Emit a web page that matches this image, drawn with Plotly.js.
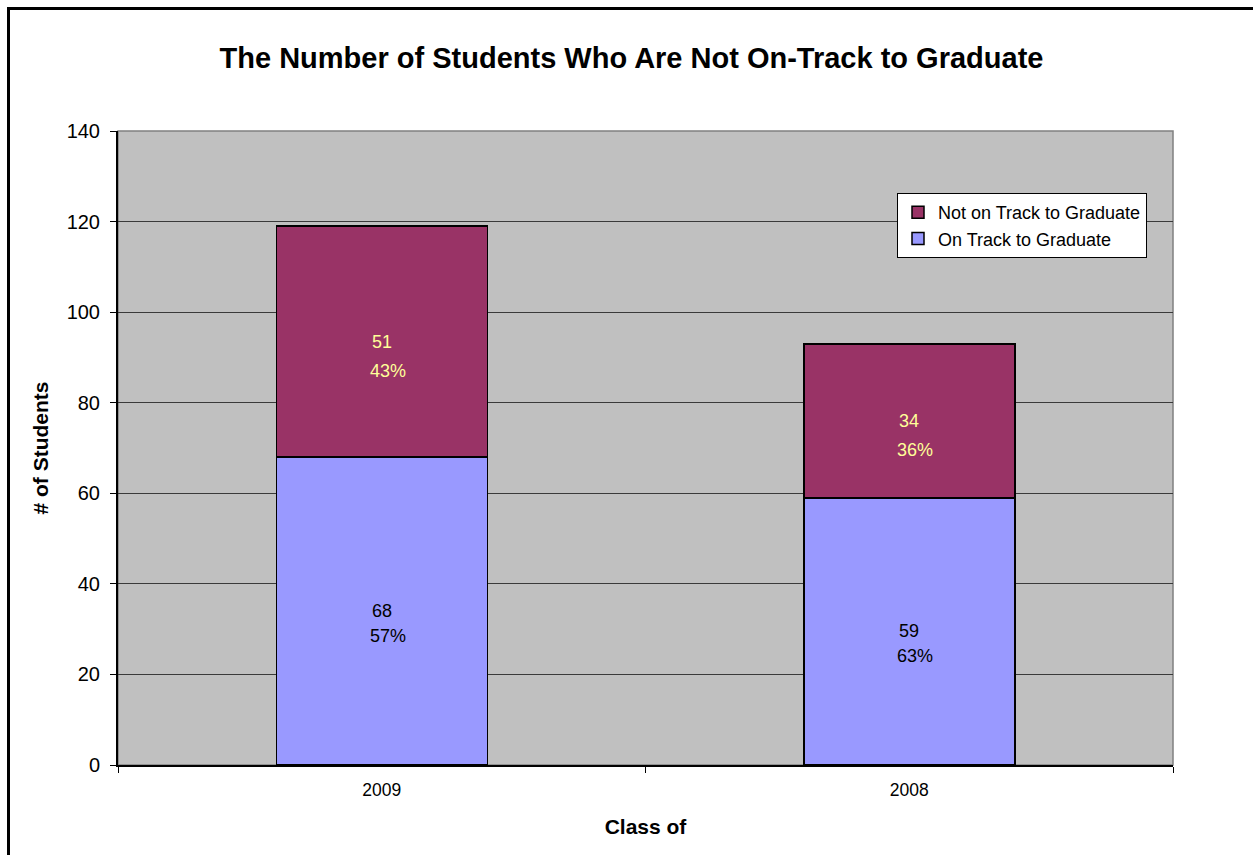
<!DOCTYPE html>
<html>
<head>
<meta charset="utf-8">
<script src="https://cdn.plot.ly/plotly-3.0.1.min.js"></script>
<style>
  html, body { margin: 0; padding: 0; background: #ffffff; overflow: hidden; }
  #chart { width: 1253px; height: 855px; position: absolute; left: 0; top: 0; }
  #frame { position: absolute; left: 7px; top: 7px; width: 1400px; height: 1000px;
           border-left: 3px solid #000; border-top: 3px solid #000; pointer-events: none; }
</style>
</head>
<body>
<div id="chart"></div>
<div id="frame"></div>
<script>
// ---- data ----
const categories = ["2009", "2008"];
const onTrack = [68, 59];
const notOnTrack = [51, 34];
const onTrackPct = ["57%", "63%"];
const notOnTrackPct = ["43%", "36%"];
const seriesNames = ["On Track to Graduate", "Not on Track to Graduate"];
const yTicks = [0, 20, 40, 60, 80, 100, 120, 140];

const FONT = "Liberation Sans, Arial, sans-serif";

const traces = [
  {
    type: "bar", name: seriesNames[0], x: categories, y: onTrack,
    marker: { color: "#9999FF", line: { color: "#000000", width: 1.5 } },
    hoverinfo: "none"
  },
  {
    type: "bar", name: seriesNames[1], x: categories, y: notOnTrack,
    marker: { color: "#993366", line: { color: "#000000", width: 1.5 } },
    hoverinfo: "none"
  }
];

// data labels built from the arrays (x given as category index)
const annotations = [];
categories.forEach((c, i) => {
  const midA = onTrack[i] / 2;
  const midB = onTrack[i] + notOnTrack[i] / 2;
  annotations.push({ x: i, y: midA, xref: "x", yref: "y", text: String(onTrack[i]),
    showarrow: false, font: { family: FONT, size: 18, color: "#000000" } });
  annotations.push({ x: i, y: midA, xref: "x", yref: "y", text: onTrackPct[i], yshift: -25, xshift: 6,
    showarrow: false, font: { family: FONT, size: 18, color: "#000000" } });
  annotations.push({ x: i, y: midB, xref: "x", yref: "y", text: String(notOnTrack[i]),
    showarrow: false, font: { family: FONT, size: 18, color: "#FFFF99" } });
  annotations.push({ x: i, y: midB, xref: "x", yref: "y", text: notOnTrackPct[i], yshift: -29, xshift: 6,
    showarrow: false, font: { family: FONT, size: 18, color: "#FFFF99" } });
});

const layout = {
  width: 1253, height: 855,
  margin: { l: 118, r: 80, t: 131, b: 90, pad: 0 },
  paper_bgcolor: "#ffffff",
  plot_bgcolor: "#C0C0C0",
  barmode: "stack",
  bargap: 0.6,
  showlegend: true,
  font: { family: FONT, color: "#000000" },
  title: {
    text: "<b>The Number of Students Who Are Not On-Track to Graduate</b>",
    font: { family: FONT, size: 29, color: "#000000" },
    x: 0.504, xref: "container", xanchor: "center",
    y: 1 - 58 / 855, yref: "container", yanchor: "middle"
  },
  xaxis: {
    type: "category",
    categoryorder: "array", categoryarray: categories,
    range: [-0.5, 1.5],
    tickson: "boundaries",
    ticks: "outside", ticklen: 6, tickcolor: "#000000", tickwidth: 1,
    tickangle: 0,
    ticklabelstandoff: 8,
    showline: true, linecolor: "#000000", linewidth: 2,
    showgrid: false,
    tickfont: { family: FONT, size: 17.5, color: "#000000" },
    title: { text: "<b>Class of</b>", font: { family: FONT, size: 21, color: "#000000" }, standoff: 20 },
    automargin: false
  },
  yaxis: {
    range: [0, 140],
    tickvals: yTicks,
    ticks: "outside", ticklen: 6, tickcolor: "#000000", tickwidth: 1,
    showline: true, linecolor: "#000000", linewidth: 2,
    showgrid: true, gridcolor: "#3a3a3a", gridwidth: 1,
    zeroline: false,
    ticklabelstandoff: 6,
    tickfont: { family: FONT, size: 20, color: "#000000" },
    title: { text: "<b># of Students</b>", font: { family: FONT, size: 21, color: "#000000" }, standoff: 12 },
    automargin: false
  },
  legend: {
    x: (897 - 118) / 1055, y: (765 - 193) / 634,
    xanchor: "left", yanchor: "top",
    bgcolor: "#ffffff", bordercolor: "#000000", borderwidth: 1,
    font: { family: FONT, size: 18, color: "#000000" },
    traceorder: "reversed",
    tracegroupgap: 0
  },
  shapes: [
    { type: "rect", xref: "paper", yref: "paper", x0: 0, x1: 1, y0: 0, y1: 1,
      line: { color: "#808080", width: 1.5 }, fillcolor: "rgba(0,0,0,0)", layer: "below" }
  ],
  annotations: annotations
};

Plotly.newPlot("chart", traces, layout, { displayModeBar: false, staticPlot: true });
</script>
</body>
</html>
